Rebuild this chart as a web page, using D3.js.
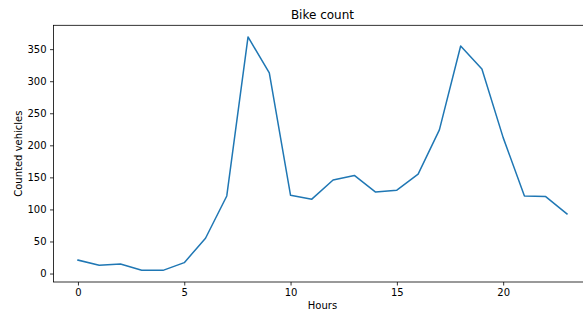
<!DOCTYPE html>
<html>
<head>
<meta charset="utf-8">
<script src="https://cdn.jsdelivr.net/npm/d3@7"></script>
<style>
  html, body { margin: 0; padding: 0; background: #fff; }
  svg { display: block; font-family: "DejaVu Sans", sans-serif; }
</style>
</head>
<body>
<svg id="chart" width="583" height="312"></svg>
<script>
const hours = [0,1,2,3,4,5,6,7,8,9,10,11,12,13,14,15,16,17,18,19,20,21,22,23];
const counts = [21,13,15,5,5,17,55,121,369,313,122,116,146,153,127,130,155,224,355,319,212,121,120,93];
const xTicks = [0,5,10,15,20];
const yTicks = [0,50,100,150,200,250,300,350];
const title = "Bike count";
const xLabel = "Hours";
const yLabel = "Counted vehicles";

(function () {
const svg = d3.select("#chart");
const mLeft = 53.5, mRight = 591.4, mTop = 25.3, mBottom = 282;

const xMin = d3.min(hours), xMax = d3.max(hours);
const xPad = (xMax - xMin) * 0.05;
const x = d3.scaleLinear().domain([xMin - xPad, xMax + xPad]).range([mLeft, mRight]);
const yMin = d3.min(counts), yMax = d3.max(counts);
const yPad = (yMax - yMin) * 0.05;
const y = d3.scaleLinear().domain([yMin - yPad, yMax + yPad]).range([mBottom, mTop]);

svg.append("rect").attr("x", mLeft).attr("y", mTop)
  .attr("width", mRight - mLeft).attr("height", mBottom - mTop)
  .attr("fill", "none").attr("stroke", "#000").attr("stroke-width", 0.8);

const xAxis = svg.append("g").attr("transform", `translate(0,${mBottom})`)
  .call(d3.axisBottom(x).tickValues(xTicks).tickSize(3.5).tickPadding(3.5).tickFormat(d3.format("d")));
const yAxis = svg.append("g").attr("transform", `translate(${mLeft},0)`)
  .call(d3.axisLeft(y).tickValues(yTicks).tickSize(3.5).tickPadding(3.5).tickFormat(d3.format("d")));
[xAxis, yAxis].forEach(g => {
  g.select(".domain").remove();
  g.selectAll(".tick line").attr("stroke", "#000").attr("stroke-width", 0.8);
  g.selectAll(".tick text").attr("fill", "#000").style("font-size", "10px")
    .style("font-family", "'DejaVu Sans', sans-serif");
});

const line = d3.line().x((d, i) => x(hours[i])).y(d => y(d));
svg.append("path").datum(counts)
  .attr("d", line).attr("fill", "none")
  .attr("stroke", "#1f77b4").attr("stroke-width", 1.5)
  .attr("stroke-linejoin", "round").attr("stroke-linecap", "square");

svg.append("text").attr("x", (mLeft + mRight) / 2).attr("y", 19)
  .attr("text-anchor", "middle").style("font-size", "12px").attr("fill", "#000").text(title);
svg.append("text").attr("x", (mLeft + mRight) / 2).attr("y", 309)
  .attr("text-anchor", "middle").style("font-size", "10px").attr("fill", "#000").text(xLabel);
svg.append("text").attr("transform", `translate(22,${(mTop + mBottom) / 2}) rotate(-90)`)
  .attr("text-anchor", "middle").style("font-size", "10px").attr("fill", "#000").text(yLabel);
})();
</script>
</body>
</html>
